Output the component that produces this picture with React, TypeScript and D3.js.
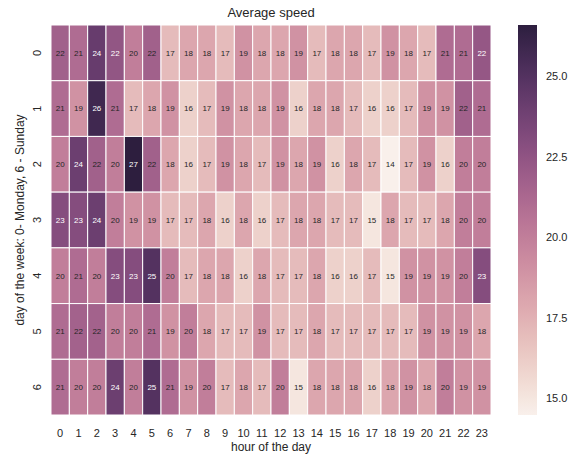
import React, { useMemo } from "react";
import * as d3 from "d3";

// Hours of the day (columns) and days of the week (rows)
const hours = d3.range(24).map(String);
const days = ["0", "1", "2", "3", "4", "5", "6"];

// Average speed per weekday (rows) and hour (columns)
const speedMon = [21.7, 21, 24.2, 22.4, 20, 21.7, 17, 18, 18, 17, 19, 18, 18, 19, 17, 18, 18, 17, 19, 18, 17, 21, 21, 22.3];
const speedTue = [21, 19, 25.8, 21, 17, 18, 19, 16, 17, 19, 18, 18, 19, 16, 18, 18, 17, 16, 16, 17, 19, 19, 21.7, 21];
const speedWed = [20, 24, 21.7, 20, 26.6, 21.7, 18, 16, 17, 19, 18, 17, 19, 18, 19, 16, 18, 17, 14.48, 17, 19, 16, 20, 20];
const speedThu = [23, 23, 24, 20, 19, 19, 17, 17, 18, 16, 18, 16, 17, 18, 18, 17, 17, 15, 18, 17, 17, 18, 20, 20];
const speedFri = [20, 21, 20, 23, 23, 25, 20, 17, 18, 18, 16, 18, 17, 17, 18, 16, 16, 17, 15, 19, 19, 19, 20, 23];
const speedSat = [21, 21.6, 21.6, 20, 20, 21, 19, 20, 18, 17, 17, 19, 17, 17, 18, 17, 17, 17, 17, 17, 19, 19, 19, 18];
const speedSun = [21, 20, 20, 24, 20, 25, 21, 19, 20, 17, 18, 17, 20, 15, 18, 18, 18, 16, 18, 19, 18, 20, 19, 19];
const speedRows = [speedMon, speedTue, speedWed, speedThu, speedFri, speedSat, speedSun];

const colorbarTicks = [15, 17.5, 20, 22.5, 25];

const FONT = "'Liberation Sans', Arial, Helvetica, sans-serif";
const INK = "#262626";

// Cubehelix colour ramp (start 0, rot .4, hue .8, light .95 -> dark .15)
function cubehelix(x: number): [number, number, number] {
  const gamma = 1, hue = 0.8, start = 0, rot = 0.4;
  const xg = Math.pow(x, gamma);
  const a = (hue * xg * (1 - xg)) / 2;
  const phi = 2 * Math.PI * (start / 3 + rot * x);
  const ch = (p0: number, p1: number) =>
    Math.min(1, Math.max(0, xg + a * (p0 * Math.cos(phi) + p1 * Math.sin(phi))));
  return [ch(-0.14861, 1.78277), ch(-0.29227, -0.90649), ch(1.97294, 0)];
}

export default function App() {
  const width = 577;
  const height = 454;
  const left = 51, right = 491, top = 25, bottom = 415;

  const cells = useMemo(
    () =>
      speedRows.flatMap((row, ri) =>
        row.map((v, ci) => ({ day: days[ri], hour: hours[ci], value: v }))
      ),
    []
  );

  const [vmin, vmax] = d3.extent(cells, (d) => d.value) as [number, number];

  const x = d3.scaleBand<string>().domain(hours).range([left, right]);
  const y = d3.scaleBand<string>().domain(days).range([top, bottom]);
  const lightness = d3.scaleLinear().domain([vmin, vmax]).range([0.95, 0.15]).clamp(true);
  const rgbOf = (v: number) => cubehelix(lightness(v));
  const color = (v: number) => {
    const [r, g, b] = rgbOf(v);
    return d3.rgb(r * 255, g * 255, b * 255).formatHex();
  };
  const textColor = (v: number) => {
    const c = rgbOf(v);
    const l = (Math.max(...c) + Math.min(...c)) / 2;
    return l > 0.5 ? INK : "#ffffff";
  };

  const cbX = 518, cbW = 19;
  const cbScale = d3.scaleLinear().domain([vmin, vmax]).range([bottom, top]);
  const stops = d3.range(0, 1.0001, 1 / 64).map((t) => ({
    offset: t,
    color: color(vmin + (vmax - vmin) * t),
  }));

  return (
    <svg
      width={width}
      height={height}
      style={{ position: "absolute", left: 0, top: 0, background: "#fff" }}
      fontFamily={FONT}
    >
      <defs>
        <linearGradient id="cbar" x1="0" y1="1" x2="0" y2="0">
          {stops.map((s, i) => (
            <stop key={i} offset={s.offset} stopColor={s.color} />
          ))}
        </linearGradient>
      </defs>
      <rect width={width} height={height} fill="#fff" />

      <text x={(left + right) / 2} y={17} textAnchor="middle" fontSize={13} fill={INK}>
        Average speed
      </text>

      {cells.map((c, i) => (
        <g key={i}>
          <rect
            x={x(c.hour)!}
            y={y(c.day)!}
            width={x.bandwidth()}
            height={y.bandwidth()}
            fill={color(c.value)}
            stroke="#fff"
            strokeWidth={1}
          />
          <text
            x={x(c.hour)! + x.bandwidth() / 2}
            y={y(c.day)! + y.bandwidth() / 2}
            dy="0.35em"
            textAnchor="middle"
            fontSize={8}
            fill={textColor(c.value)}
          >
            {d3.format(".0f")(c.value)}
          </text>
        </g>
      ))}

      {hours.map((h) => (
        <text
          key={h}
          x={x(h)! + x.bandwidth() / 2}
          y={437}
          textAnchor="middle"
          fontSize={11}
          fill={INK}
        >
          {h}
        </text>
      ))}
      <text x={(left + right) / 2} y={451} textAnchor="middle" fontSize={12} fill={INK}>
        hour of the day
      </text>

      {days.map((d) => (
        <text
          key={d}
          transform={`translate(41,${y(d)! + y.bandwidth() / 2}) rotate(-90)`}
          textAnchor="middle"
          fontSize={11}
          fill={INK}
        >
          {d}
        </text>
      ))}
      <text
        transform={`translate(24,${(top + bottom) / 2}) rotate(-90)`}
        textAnchor="middle"
        fontSize={12}
        fill={INK}
      >
        day of the week: 0- Monday, 6 - Sunday
      </text>

      <rect x={cbX} y={top} width={cbW} height={bottom - top} fill="url(#cbar)" />
      {colorbarTicks.map((t) => (
        <text
          key={t}
          x={546}
          y={cbScale(t)}
          dy="0.35em"
          fontSize={11}
          fill={INK}
        >
          {d3.format(".1f")(t)}
        </text>
      ))}
    </svg>
  );
}
